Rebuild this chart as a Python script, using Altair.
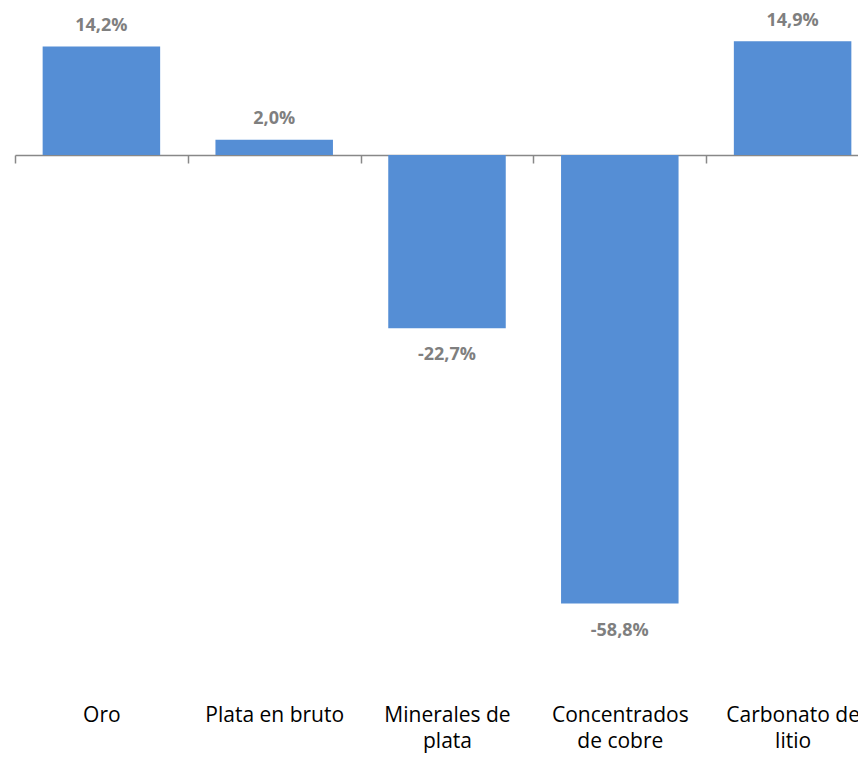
import altair as alt
import pandas as pd

categories = ["Oro", "Plata en bruto", "Minerales de\nplata", "Concentrados\nde cobre", "Carbonato de\nlitio"]
values = [14.2, 2.0, -22.7, -58.8, 14.9]
labels = [f"{v:.1f}".replace(".", ",") + "%" for v in values]

df = pd.DataFrame({"cat": categories, "val": values, "lbl": labels})

x = alt.X(
    "cat:N",
    sort=categories,
    title=None,
    scale=alt.Scale(paddingInner=0, paddingOuter=0),
    axis=alt.Axis(
        orient="bottom",
        offset=-534,
        tickBand="extent",
        domainColor="#888888",
        domainWidth=1.5,
        tickColor="#888888",
        tickWidth=1.5,
        tickSize=8,
        labelPadding=541,
        labelAngle=0,
        labelFont="Open Sans",
        labelFontSize=21,
        labelColor="#000000",
        labelLineHeight=26,
        labelExpr="split(datum.label, '\\n')",
        labelOverlap=False,
        labelLimit=0,
    ),
)
y = alt.Y("val:Q", scale=alt.Scale(domain=[-70, 19], nice=False, zero=True), axis=None)

base = alt.Chart(df).encode(x=x, y=y)

bars = base.mark_bar(color="#558ED5", width=alt.RelativeBandSize(0.68))

pos = base.transform_filter("datum.val >= 0").mark_text(
    baseline="alphabetic", dy=-15.5, font="Open Sans", fontSize=18, fontWeight="bold", color="#7F7F7F"
).encode(text="lbl:N")

neg = base.transform_filter("datum.val < 0").mark_text(
    baseline="alphabetic", dy=32, font="Open Sans", fontSize=18, fontWeight="bold", color="#7F7F7F"
).encode(text="lbl:N")

chart = alt.layer(bars, pos, neg).properties(
    width=864,
    height=679,
    autosize=alt.AutoSizeParams(type="none"),
    padding={"left": 7, "top": 2, "right": -21, "bottom": 64},
).configure_view(stroke=None)

chart.save("out.html", embed_options={"renderer": "svg", "actions": False})
